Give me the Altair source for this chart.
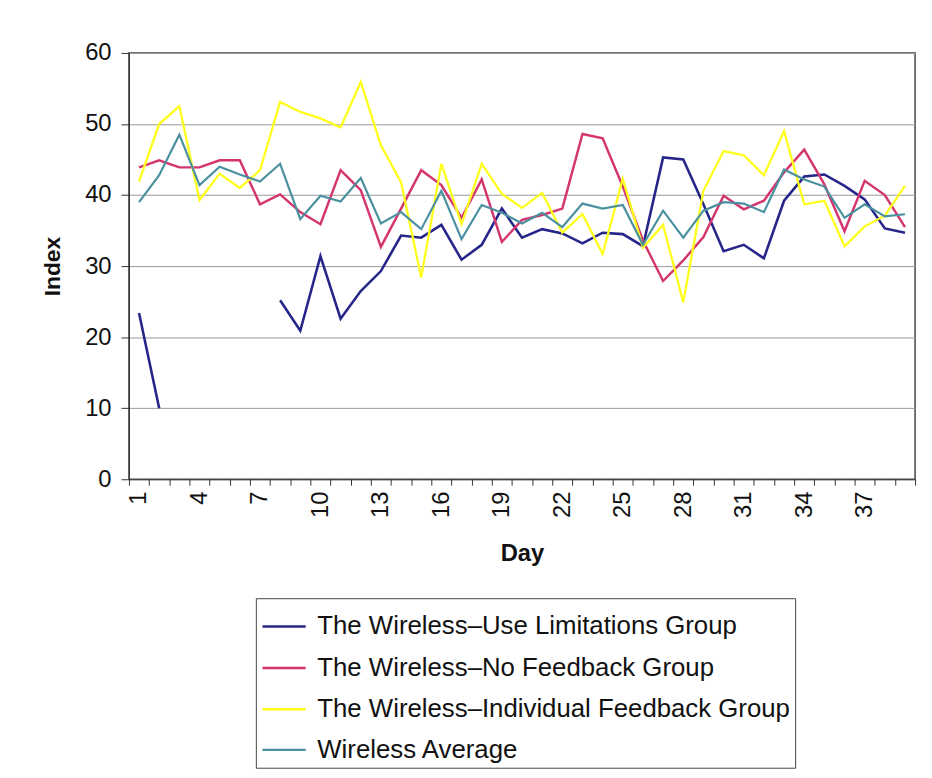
import altair as alt
import pandas as pd

days = list(range(1, 40))

groups = [
    "The Wireless\u2013Use Limitations Group",
    "The Wireless\u2013No Feedback Group",
    "The Wireless\u2013Individual Feedback Group",
    "Wireless Average",
]
colors = ["#26268a", "#d4356f", "#ffff1e", "#4a909e"]
widths = [2.6, 2.2, 2.2, 1.6]

use_limitations = [23.4, 10.0, None, None, None, None, None, 25.2, 20.9, 31.4, 22.6, 26.5, 29.3,
                   34.3, 34.0, 35.8, 30.9, 33.0, 38.1, 34.0, 35.2, 34.6, 33.2, 34.7, 34.5,
                   32.8, 45.3, 45.0, 38.7, 32.1, 33.0, 31.1, 39.2, 42.6, 42.9, 41.3, 39.4, 35.3, 34.7]
no_feedback = [43.9, 44.9, 43.9, 43.9, 44.9, 44.9, 38.7, 40.1, 37.6, 35.9, 43.5, 40.7, 32.7,
               38.1, 43.5, 41.4, 36.8, 42.2, 33.4, 36.5, 37.2, 38.1, 48.6, 48.0, 41.2,
               33.6, 27.9, 30.8, 34.1, 39.9, 38.0, 39.2, 43.2, 46.4, 41.5, 34.9, 42.0, 40.0, 35.5]
individual_feedback = [41.9, 50.0, 52.5, 39.3, 43.0, 41.0, 43.5, 53.1, 51.7, 50.8, 49.5, 55.9, 47.0,
                       41.8, 28.4, 44.4, 35.9, 44.4, 40.2, 38.2, 40.3, 34.7, 37.3, 31.7, 42.3,
                       32.6, 35.8, 24.9, 40.6, 46.2, 45.6, 42.8, 49.0, 38.7, 39.2, 32.8, 35.6, 37.1, 41.3]
wireless_average = [39.0, 42.8, 48.5, 41.4, 44.0, 42.9, 41.9, 44.4, 36.6, 39.9, 39.1, 42.4, 36.0,
                    37.6, 35.2, 40.6, 33.8, 38.6, 37.5, 36.0, 37.5, 35.5, 38.8, 38.1, 38.6,
                    33.0, 37.8, 34.0, 37.8, 39.0, 38.8, 37.6, 43.6, 42.2, 41.2, 36.8, 38.7, 37.0, 37.3]

series = [use_limitations, no_feedback, individual_feedback, wireless_average]

rows = []
for gi, (g, vals) in enumerate(zip(groups, series)):
    seg = 0
    prev_none = False
    for d, v in zip(days, vals):
        if v is None:
            prev_none = True
            continue
        if prev_none:
            seg += 1
            prev_none = False
        rows.append({"day": d, "value": v, "group": g, "seg": f"{gi}-{seg}", "order": gi})
df = pd.DataFrame(rows)

FONT = "Liberation Sans"

chart = alt.Chart(df).mark_line().encode(
    x=alt.X("day:O",
            scale=alt.Scale(type="band", paddingInner=0, paddingOuter=0),
            bandPosition=0.5,
            axis=alt.Axis(title="Day", tickBand="extent", labelAngle=-90,
                          labelExpr="(datum.value - 1) % 3 == 0 ? datum.label : ''",
                          labelOverlap=False, labelFontSize=24, labelPadding=6,
                          tickSize=6, grid=False, titleFontSize=24, titleFontWeight="bold",
                          titlePadding=24, domainColor="#333", tickColor="#333",
                          labelColor="#111", titleColor="#111")),
    y=alt.Y("value:Q",
            scale=alt.Scale(domain=[0, 60], nice=False),
            axis=alt.Axis(title="Index", values=[0, 10, 20, 30, 40, 50, 60],
                          labelFontSize=24, labelPadding=10, tickSize=8,
                          gridColor="#999", gridWidth=1, titleFontSize=23,
                          titleFontWeight="bold", titlePadding=20, domainColor="#333",
                          tickColor="#333", labelColor="#111", titleColor="#111")),
    color=alt.Color("group:N",
                    scale=alt.Scale(domain=groups, range=colors),
                    sort=groups,
                    legend=alt.Legend(title=None, orient="none", legendX=128, legendY=550,
                                      symbolType="stroke", symbolSize=1900,
                                      symbolStrokeWidth=2, labelFontSize=26,
                                      labelLimit=1000, labelOffset=10, rowPadding=5,
                                      padding=5, strokeColor="#444", fillColor="white",
                                      labelColor="#111")),
    strokeWidth=alt.StrokeWidth("group:N",
                                scale=alt.Scale(domain=groups, range=widths),
                                legend=None),
    detail="seg:N",
    order="order:Q",
).properties(
    width=793,
    height=430,
    padding={"left": 122, "top": 42, "right": 9, "bottom": 298},
    autosize=alt.AutoSizeParams(type="none"),
).configure(
    font=FONT,
).configure_view(
    stroke="#444", strokeWidth=1.5
).configure_axis(
    labelFont=FONT, titleFont=FONT
).configure_legend(
    labelFont=FONT
)

chart.save("out.html", embed_options={"renderer": "svg", "actions": False})
